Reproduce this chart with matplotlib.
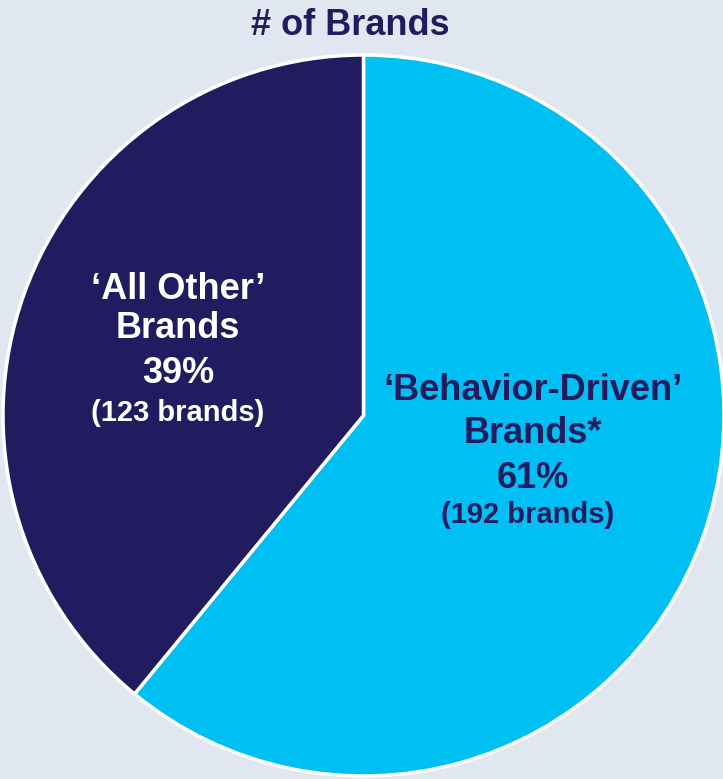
import matplotlib
matplotlib.use("Agg")
import matplotlib.pyplot as plt

plt.rcParams['font.family'] = ['Liberation Sans', 'DejaVu Sans']

# ---- data ----
title = "# of Brands"
categories = ["\u2018Behavior-Driven\u2019\nBrands*", "\u2018All Other\u2019\nBrands"]
counts = [192, 123]
colors = ["#00BFF3", "#211B5F"]
text_colors = ["#211B5F", "#FFFFFF"]

BG = "#E1E7F1"
W, H = 723, 779
fig = plt.figure(figsize=(W / 100, H / 100), dpi=100, facecolor=BG)

# pie axes: center (363.5, 415.5) px, radius 360.5 px
cx, cy, r = 363.5, 415.5, 360.5
ax = fig.add_axes([(cx - r) / W, (H - cy - r) / H, 2 * r / W, 2 * r / H])
ax.set_facecolor(BG)
ax.pie(counts, colors=colors, startangle=90, counterclock=False, radius=1,
       wedgeprops=dict(edgecolor="white", linewidth=2.5), frame=False)
ax.set_xlim(-1, 1)
ax.set_ylim(-1, 1)
ax.set_aspect('auto')
ax.axis('off')

def px(x, y):
    return x / W, 1 - y / H

fig.text(*px(350, 35), title, ha='center', va='baseline', fontsize=26,
         fontweight='bold', color="#211B5F")

total = sum(counts)
# label anchor positions (px): center x, baselines
anchors = [(533, [400, 443, 488, 523]), (178, [299, 338, 383, 421])]
for cat, n, tc, (lx, ys) in zip(categories, counts, text_colors, anchors):
    l1, l2 = cat.split("\n")
    pct = f"{round(100 * n / total)}%"
    sub = f"({n} brands)"
    for i, (txt, y, fs) in enumerate(zip([l1, l2, pct, sub], ys, [26, 26, 26, 21])):
        x = lx - 5 if (i == 3 and lx > 300) else lx
        fig.text(*px(x, y), txt, ha='center', va='baseline', fontsize=fs,
                 fontweight='bold', color=tc)

fig.savefig("out.png", dpi=100, facecolor=BG)
